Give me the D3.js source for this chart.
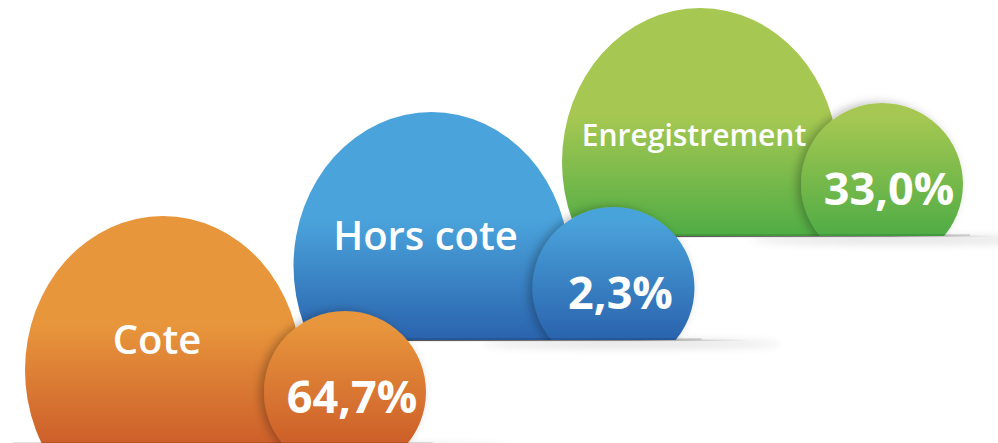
<!DOCTYPE html>
<html>
<head>
<meta charset="utf-8">
<script src="https://cdn.jsdelivr.net/npm/d3@7"></script>
<style>
  body { margin: 0; background: #fff; }
  svg { display: block; }
</style>
</head>
<body>
<svg id="main"></svg>
<script>
const categories = ['Cote', 'Hors cote', 'Enregistrement'];
const shares = [64.7, 2.3, 33.0];
const colorsTop = ['#e8963c', '#4aa3db', '#a6c852'];
const colorsBottom = ['#cd5f2a', '#2a63ad', '#4fac45'];

const width = 998, height = 443;

const svg = d3.select('#main')
  .attr('width', width)
  .attr('height', height);

const data = categories.map((c, i) => ({ name: c, value: shares[i], i: i }));

// group centre and baseline positions
const x = d3.scalePoint().domain(categories).range([163, 700]);
const base = d3.scalePoint().domain(categories).range([444, 236]);

const fr = d3.formatLocale({ decimal: ',', thousands: ' ', grouping: [3], currency: ['', ' €'] });
const pct = v => fr.format('.1f')(v) + '%';

const defs = svg.append('defs');

const shadow = defs.append('filter')
  .attr('id', 'shadow')
  .attr('x', '-30%').attr('y', '-30%')
  .attr('width', '160%').attr('height', '160%');
shadow.append('feDropShadow')
  .attr('dx', -4).attr('dy', 0)
  .attr('stdDeviation', 5)
  .attr('flood-color', '#000')
  .attr('flood-opacity', 0.28);

const blur = defs.append('filter').attr('id', 'blur')
  .attr('x', '-20%').attr('y', '-200%')
  .attr('width', '140%').attr('height', '500%');
blur.append('feGaussianBlur').attr('stdDeviation', 4);

data.forEach(d => {
  const b = base(d.name);
  const g = defs.append('linearGradient')
    .attr('id', 'grad' + d.i)
    .attr('gradientUnits', 'userSpaceOnUse')
    .attr('x1', 0).attr('x2', 0)
    .attr('y1', b - 120).attr('y2', b);
  g.append('stop').attr('offset', 0).attr('stop-color', colorsTop[d.i]);
  g.append('stop').attr('offset', 1).attr('stop-color', colorsBottom[d.i]);

  const lg = defs.append('linearGradient')
    .attr('id', 'line' + d.i)
    .attr('x1', 0).attr('x2', 1).attr('y1', 0).attr('y2', 0);
  lg.append('stop').attr('offset', 0).attr('stop-color', '#333').attr('stop-opacity', 0.9);
  lg.append('stop').attr('offset', 0.7).attr('stop-color', '#666').attr('stop-opacity', 0.7);
  lg.append('stop').attr('offset', 1).attr('stop-color', '#999').attr('stop-opacity', 0);

  defs.append('clipPath')
    .attr('id', 'clip' + d.i)
    .append('rect')
    .attr('x', 0).attr('y', 0)
    .attr('width', width).attr('height', b);
});

// draw back to front: green, blue, orange
const groups = svg.selectAll('.group')
  .data(data.slice().reverse())
  .enter()
  .append('g')
  .attr('class', 'group');

// soft shadow under the baseline
groups.append('ellipse')
  .attr('cx', d => x(d.name) + 200)
  .attr('cy', d => base(d.name) + 4)
  .attr('rx', 150)
  .attr('ry', 4)
  .attr('fill', '#000')
  .attr('opacity', 0.12)
  .attr('filter', 'url(#blur)');

// baseline line
groups.append('rect')
  .attr('x', d => x(d.name) - 60)
  .attr('y', d => base(d.name) - 0.5)
  .attr('width', d => d.i === 2 ? width - x(d.name) + 60 : 380)
  .attr('height', 1.6)
  .attr('fill', d => 'url(#line' + d.i + ')');

const clipped = groups.append('g')
  .attr('clip-path', d => 'url(#clip' + d.i + ')');

clipped.append('ellipse')
  .attr('class', 'big')
  .attr('cx', d => x(d.name))
  .attr('cy', d => base(d.name) - 74)
  .attr('rx', 138)
  .attr('ry', 154)
  .attr('fill', d => 'url(#grad' + d.i + ')');

clipped.append('circle')
  .attr('class', 'small')
  .attr('cx', d => x(d.name) + 182)
  .attr('cy', d => base(d.name) - 52)
  .attr('r', 81)
  .attr('fill', d => 'url(#grad' + d.i + ')')
  .attr('filter', 'url(#shadow)');

// dark rim at the bottom of the shapes
clipped.append('rect')
  .attr('x', d => x(d.name) - 150)
  .attr('y', d => base(d.name) - 2)
  .attr('width', 420)
  .attr('height', 2)
  .attr('fill', '#000')
  .attr('opacity', 0.12);

groups.append('text')
  .attr('class', 'label')
  .text(d => d.name)
  .attr('x', d => x(d.name) - 6)
  .attr('y', d => base(d.name) - 90)
  .attr('text-anchor', 'middle')
  .attr('fill', '#fff')
  .attr('font-family', 'Open Sans')
  .attr('font-weight', 600)
  .attr('font-size', d => d.name.length > 10 ? 30 : 40);

groups.append('text')
  .attr('class', 'value')
  .text(d => pct(d.value))
  .attr('x', d => x(d.name) + 189)
  .attr('y', d => base(d.name) - 31)
  .attr('text-anchor', 'middle')
  .attr('fill', '#fff')
  .attr('font-family', 'Open Sans')
  .attr('font-weight', 700)
  .attr('font-size', 45);
</script>
</body>
</html>
